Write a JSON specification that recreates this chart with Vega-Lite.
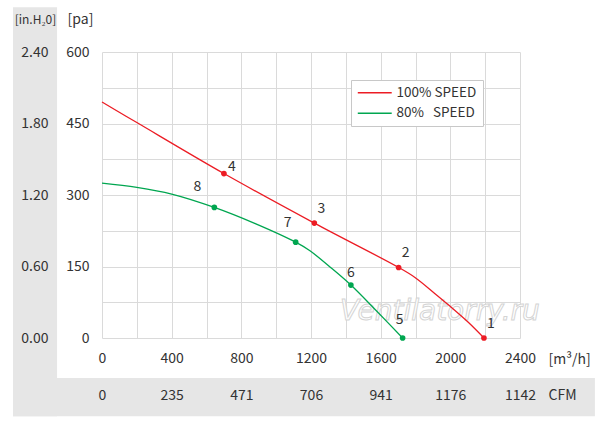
{
  "$schema": "https://vega.github.io/schema/vega-lite/v6.json",
  "width": 418,
  "height": 286,
  "autosize": "none",
  "padding": {"left": 102, "top": 52, "right": 80, "bottom": 86},
  "background": "white",
  "config": {
    "view": {"stroke": null},
    "font": "Noto Sans CJK SC",
    "axis": {
      "labelFont": "Noto Sans CJK SC",
      "labelFontSize": 14,
      "labelColor": "#333",
      "titleFont": "Noto Sans CJK SC",
      "titleFontSize": 13,
      "titleFontWeight": "normal",
      "titleColor": "#333",
      "labelFlush": false,
      "labelOverlap": false
    }
  },
  "datasets": {
    "curves": [
      {"flow": 0, "pa": 495, "speed": "100%"},
      {"flow": 200, "pa": 452, "speed": "100%"},
      {"flow": 700, "pa": 345, "speed": "100%", "label": "4"},
      {"flow": 1219, "pa": 241, "speed": "100%", "label": "3"},
      {"flow": 1703, "pa": 148, "speed": "100%", "label": "2"},
      {"flow": 1797, "pa": 127, "speed": "100%"},
      {"flow": 1912, "pa": 93, "speed": "100%"},
      {"flow": 1994, "pa": 68, "speed": "100%"},
      {"flow": 2103, "pa": 33, "speed": "100%"},
      {"flow": 2193, "pa": 0, "speed": "100%", "label": "1"},
      {"flow": 0, "pa": 325, "speed": "80%"},
      {"flow": 200, "pa": 316, "speed": "80%"},
      {"flow": 400, "pa": 302, "speed": "80%"},
      {"flow": 645, "pa": 274, "speed": "80%", "label": "8"},
      {"flow": 880, "pa": 240, "speed": "80%"},
      {"flow": 1112, "pa": 201, "speed": "80%", "label": "7"},
      {"flow": 1194, "pa": 183, "speed": "80%"},
      {"flow": 1309, "pa": 149, "speed": "80%"},
      {"flow": 1429, "pa": 111, "speed": "80%", "label": "6"},
      {"flow": 1578, "pa": 56, "speed": "80%"},
      {"flow": 1726, "pa": 0, "speed": "80%", "label": "5"}
    ]
  },
  "resolve": {"axis": {"x": "independent", "y": "independent"}},
  "layer": [
    {
      "data": {"values": [{}]},
      "mark": {"type": "rect", "color": "#e6e6e6", "clip": false},
      "encoding": {
        "x": {"datum": -511, "type": "quantitative", "scale": {"domain": [0, 2400], "nice": false, "zero": false}, "axis": null},
        "x2": {"datum": -258},
        "y": {"datum": 694, "type": "quantitative", "scale": {"domain": [0, 600], "nice": false}, "axis": null},
        "y2": {"datum": -164}
      }
    },
    {
      "data": {"values": [{}]},
      "mark": {"type": "rect", "color": "#e6e6e6", "clip": false},
      "encoding": {
        "x": {"datum": -511, "type": "quantitative", "scale": {"domain": [0, 2400], "nice": false, "zero": false}, "axis": null},
        "x2": {"datum": 2830},
        "y": {"datum": -84, "type": "quantitative", "scale": {"domain": [0, 600], "nice": false}, "axis": null},
        "y2": {"datum": -164}
      }
    },
    {
      "data": {"values": [{}]},
      "mark": {"type": "text", "text": "Ventilatorry.ru", "font": "DejaVu Sans", "fontSize": 28, "fontStyle": "italic", "fill": "white", "stroke": "#d4d4d4", "strokeWidth": 1, "align": "center", "baseline": "middle"},
      "encoding": {
        "x": {"datum": 1940, "type": "quantitative", "scale": {"domain": [0, 2400], "nice": false, "zero": false}, "axis": null},
        "y": {"datum": 54, "type": "quantitative", "scale": {"domain": [0, 600], "nice": false}, "axis": null}
      }
    },
    {
      "data": {"name": "curves"},
      "mark": {"type": "line", "interpolate": "catmull-rom", "strokeWidth": 1.3},
      "encoding": {
        "x": {
          "field": "flow", "type": "quantitative",
          "scale": {"domain": [0, 2400], "nice": false, "zero": false},
          "axis": {"orient": "bottom", "values": [0, 200, 400, 600, 800, 1000, 1200, 1400, 1600, 1800, 2000, 2200, 2400], "labels": false, "ticks": false, "domain": false, "grid": true, "gridColor": "#dadada", "title": null}
        },
        "y": {
          "field": "pa", "type": "quantitative",
          "scale": {"domain": [0, 600], "nice": false},
          "axis": {"orient": "left", "values": [0, 75, 150, 225, 300, 375, 450, 525, 600], "labels": false, "ticks": false, "domain": false, "grid": true, "gridColor": "#dadada", "title": null}
        },
        "color": {
          "field": "speed", "type": "nominal",
          "scale": {"domain": ["100%", "80%"], "range": ["#ec1c24", "#00a650"]},
          "legend": {
            "orient": "none", "legendX": 249, "legendY": 28, "title": null,
            "symbolType": "M-3,0H3", "symbolSize": 128, "symbolStrokeWidth": 1.6, "symbolOffset": 11,
            "labelFont": "Noto Sans CJK SC", "labelFontSize": 13.5, "labelColor": "#333", "labelOffset": 15,
            "labelExpr": "datum.label == '100%' ? '100% SPEED' : '80%\u00a0\u00a0\u00a0SPEED'",
            "strokeColor": "#c8c8c8", "fillColor": "white", "padding": 6, "rowPadding": 5.5
          }
        }
      }
    },
    {
      "data": {"name": "curves"},
      "transform": [{"filter": "isValid(datum.label)"}],
      "mark": {"type": "circle", "size": 32, "opacity": 1},
      "encoding": {
        "x": {
          "field": "flow", "type": "quantitative",
          "scale": {"domain": [0, 2400], "nice": false, "zero": false},
          "axis": {"orient": "bottom", "values": [0, 400, 800, 1200, 1600, 2000, 2400], "format": "d", "grid": false, "ticks": false, "domain": false, "labelPadding": 20, "labelBaseline": "middle", "zindex": 1,
            "title": "[m³/h]", "titleX": 446, "titleY": 21, "titleAlign": "left", "titleBaseline": "middle", "titleFontSize": 14}
        },
        "y": {
          "field": "pa", "type": "quantitative",
          "scale": {"domain": [0, 600], "nice": false},
          "axis": {"orient": "left", "values": [0, 150, 300, 450, 600], "grid": false, "ticks": false, "domain": false, "labelPadding": 13, "zindex": 1,
            "title": "[pa]", "titleAngle": 0, "titleX": -22, "titleY": -33, "titleAlign": "center", "titleBaseline": "middle", "titleFontSize": 14}
        },
        "color": {"condition": {"test": "datum.speed == '100%'", "value": "#ec1c24"}, "value": "#00a650"}
      }
    },
    {
      "data": {"name": "curves"},
      "transform": [{"filter": "indexof(['1','2','3'], datum.label) >= 0"}],
      "mark": {"type": "text", "fontSize": 14, "color": "#333", "dx": 7, "dy": -14},
      "encoding": {
        "x": {
          "field": "flow", "type": "quantitative",
          "scale": {"domain": [0, 2400], "nice": false, "zero": false},
          "axis": {"orient": "bottom", "values": [0, 400, 800, 1200, 1600, 2000, 2400], "grid": false, "ticks": false, "domain": false, "offset": 37, "labelPadding": 20, "labelBaseline": "middle", "zindex": 1,
            "labelExpr": "['0','235','471','706','941','1176','1142'][round(datum.value / 400)]",
            "title": "CFM", "titleX": 446, "titleY": 20, "titleAlign": "left", "titleBaseline": "middle", "titleFontSize": 14}
        },
        "y": {
          "field": "pa", "type": "quantitative",
          "scale": {"domain": [0, 600], "nice": false},
          "axis": {"orient": "left", "values": [0, 150, 300, 450, 600], "grid": false, "ticks": false, "domain": false, "offset": 41, "labelPadding": 13, "zindex": 1,
            "labelExpr": "format(datum.value / 250, '.2f')",
            "title": "[in.H₂0]", "titleAngle": 0, "titleX": -26, "titleY": -33, "titleAlign": "center", "titleBaseline": "middle", "titleFontSize": 12}
        },
        "text": {"field": "label"}
      }
    },
    {
      "data": {"name": "curves"},
      "transform": [{"filter": "datum.label == '4'"}],
      "mark": {"type": "text", "fontSize": 14, "color": "#333", "dx": 8, "dy": -7},
      "encoding": {
        "x": {"field": "flow", "type": "quantitative", "scale": {"domain": [0, 2400], "nice": false, "zero": false}, "axis": null},
        "y": {"field": "pa", "type": "quantitative", "scale": {"domain": [0, 600], "nice": false}, "axis": null},
        "text": {"field": "label"}
      }
    },
    {
      "data": {"name": "curves"},
      "transform": [{"filter": "datum.label == '8'"}],
      "mark": {"type": "text", "fontSize": 14, "color": "#333", "dx": -17, "dy": -20},
      "encoding": {
        "x": {"field": "flow", "type": "quantitative", "scale": {"domain": [0, 2400], "nice": false, "zero": false}, "axis": null},
        "y": {"field": "pa", "type": "quantitative", "scale": {"domain": [0, 600], "nice": false}, "axis": null},
        "text": {"field": "label"}
      }
    },
    {
      "data": {"name": "curves"},
      "transform": [{"filter": "datum.label == '7'"}],
      "mark": {"type": "text", "fontSize": 14, "color": "#333", "dx": -8, "dy": -19},
      "encoding": {
        "x": {"field": "flow", "type": "quantitative", "scale": {"domain": [0, 2400], "nice": false, "zero": false}, "axis": null},
        "y": {"field": "pa", "type": "quantitative", "scale": {"domain": [0, 600], "nice": false}, "axis": null},
        "text": {"field": "label"}
      }
    },
    {
      "data": {"name": "curves"},
      "transform": [{"filter": "datum.label == '6'"}],
      "mark": {"type": "text", "fontSize": 14, "color": "#333", "dx": 0, "dy": -12},
      "encoding": {
        "x": {"field": "flow", "type": "quantitative", "scale": {"domain": [0, 2400], "nice": false, "zero": false}, "axis": null},
        "y": {"field": "pa", "type": "quantitative", "scale": {"domain": [0, 600], "nice": false}, "axis": null},
        "text": {"field": "label"}
      }
    },
    {
      "data": {"name": "curves"},
      "transform": [{"filter": "datum.label == '5'"}],
      "mark": {"type": "text", "fontSize": 14, "color": "#333", "dx": -3, "dy": -18},
      "encoding": {
        "x": {"field": "flow", "type": "quantitative", "scale": {"domain": [0, 2400], "nice": false, "zero": false}, "axis": null},
        "y": {"field": "pa", "type": "quantitative", "scale": {"domain": [0, 600], "nice": false}, "axis": null},
        "text": {"field": "label"}
      }
    }
  ]
}
